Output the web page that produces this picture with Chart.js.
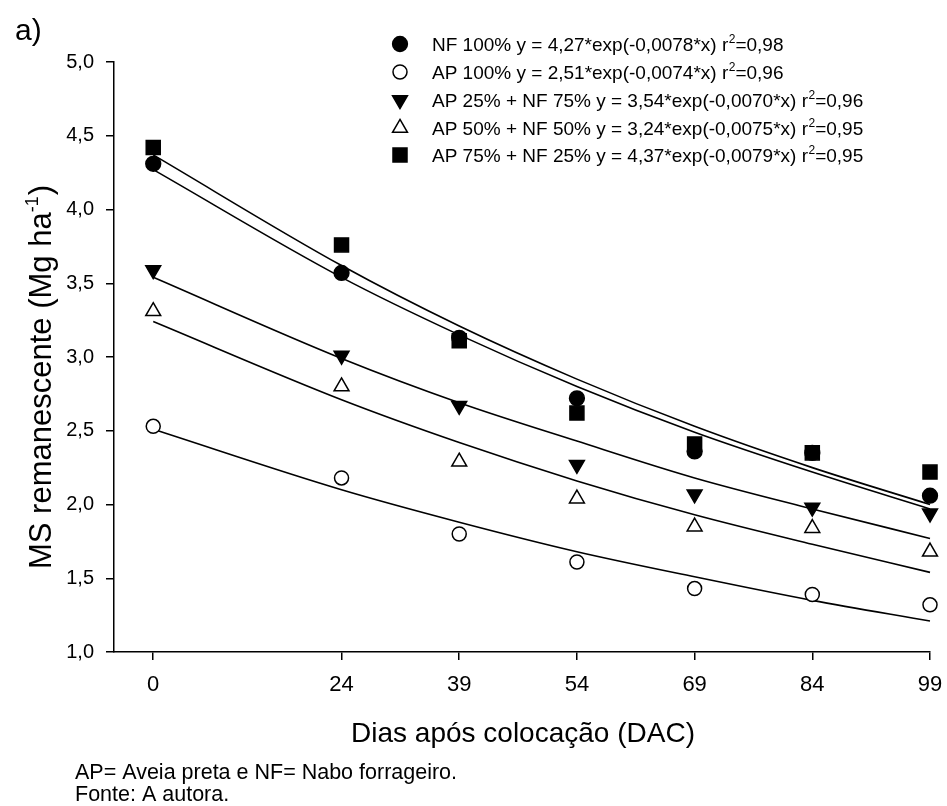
<!DOCTYPE html>
<html>
<head>
<meta charset="utf-8">
<script src="https://cdn.jsdelivr.net/npm/chart.js@4/dist/chart.umd.min.js"></script>
<style>
html,body{margin:0;padding:0;background:#fff;}
#wrap{position:relative;width:947px;height:806px;}
canvas{display:block;}
</style>
</head>
<body>
<div id="wrap"><canvas id="c" width="947" height="806"></canvas></div>
<script>
// ---- data ----
const days = [0, 24, 39, 54, 69, 84, 99];
const xTickValues = [0, 24, 39, 54, 69, 84, 99];

// observed values (Mg ha-1)
const nf100     = [4.31, 3.57, 3.13, 2.72, 2.36, 2.35, 2.06];
const ap100     = [2.53, 2.18, 1.80, 1.61, 1.43, 1.39, 1.32];
const ap25nf75  = [3.59, 3.01, 2.67, 2.27, 2.07, 1.98, 1.94];
const ap50nf50  = [3.31, 2.80, 2.29, 2.04, 1.85, 1.84, 1.68];
const ap75nf25  = [4.42, 3.76, 3.11, 2.62, 2.41, 2.35, 2.22];

// fitted curves read at the same days
const nf100Fit    = [4.27, 3.54, 3.15, 2.80, 2.49, 2.22, 1.97];
const ap100Fit    = [2.51, 2.10, 1.88, 1.68, 1.51, 1.35, 1.21];
const ap25nf75Fit = [3.54, 2.99, 2.69, 2.43, 2.18, 1.97, 1.77];
const ap50nf50Fit = [3.24, 2.71, 2.42, 2.16, 1.93, 1.73, 1.54];
const ap75nf25Fit = [4.37, 3.62, 3.21, 2.85, 2.53, 2.25, 2.00];

const legendMain = [
  "NF 100% y = 4,27*exp(-0,0078*x) r",
  "AP 100% y = 2,51*exp(-0,0074*x) r",
  "AP 25% + NF 75% y = 3,54*exp(-0,0070*x) r",
  "AP 50% + NF 50% y = 3,24*exp(-0,0075*x) r",
  "AP 75% + NF 25% y = 4,37*exp(-0,0079*x) r"
];
const legendR2 = ["=0,98", "=0,96", "=0,96", "=0,95", "=0,95"];

const yTitle = "MS remanescente (Mg ha";
const xTitle = "Dias após colocação (DAC)";
const panelLabel = "a)";
const footnotes = ["AP= Aveia preta e NF= Nabo forrageiro.", "Fonte: A autora."];

// ---- styles ----
const FONT = '"Liberation Sans", Arial, Helvetica, sans-serif';
const markers = [
  {style: 'circle',   radius: 7.4, rotation: 0,   fill: '#000'},
  {style: 'circle',   radius: 7.0, rotation: 0,   fill: '#fff'},
  {style: 'triangle', radius: 8.6, rotation: 180, fill: '#000'},
  {style: 'triangle', radius: 8.6, rotation: 0,   fill: '#fff'},
  {style: 'rect',     radius: 9.9, rotation: 0,   fill: '#000'}
];
const observed = [nf100, ap100, ap25nf75, ap50nf50, ap75nf25];
const fitted = [nf100Fit, ap100Fit, ap25nf75Fit, ap50nf50Fit, ap75nf25Fit];

const toXY = arr => arr.map((v, i) => ({x: days[i], y: v}));

const datasets = [];
observed.forEach((arr, i) => {
  const m = markers[i];
  datasets.push({
    data: toXY(arr),
    showLine: false,
    clip: false,
    pointStyle: m.style,
    pointRadius: m.radius,
    pointHoverRadius: m.radius,
    pointRotation: m.rotation,
    pointBackgroundColor: m.fill,
    pointBorderColor: '#000',
    pointBorderWidth: 1.5,
    order: 0
  });
});
fitted.forEach((arr) => {
  datasets.push({
    data: toXY(arr),
    showLine: true,
    clip: false,
    pointRadius: 0,
    pointHoverRadius: 0,
    borderColor: '#000',
    borderWidth: 1.6,
    fill: false,
    cubicInterpolationMode: 'monotone',
    order: 1
  });
});

const textPlugin = {
  id: 'texts',
  afterDraw(chart) {
    const ctx = chart.ctx;
    ctx.save();
    ctx.fillStyle = '#000';
    ctx.textBaseline = 'alphabetic';
    ctx.textAlign = 'left';

    // panel label
    ctx.font = '30px ' + FONT;
    ctx.fillText(panelLabel, 15, 40);

    // legend
    const rowY = [44, 72, 100, 128, 155];
    for (let i = 0; i < 5; i++) {
      const m = markers[i];
      ctx.fillStyle = m.fill;
      ctx.strokeStyle = '#000';
      ctx.lineWidth = 1.5;
      Chart.helpers.drawPoint(ctx, {pointStyle: m.style, radius: m.radius, rotation: m.rotation, borderWidth: 1.5}, 400, rowY[i]);
      ctx.fillStyle = '#000';
      ctx.font = '19px ' + FONT;
      let x = 432;
      const base = rowY[i] + 7;
      ctx.fillText(legendMain[i], x, base);
      x += ctx.measureText(legendMain[i]).width;
      ctx.font = '12px ' + FONT;
      ctx.fillText('2', x + 0.5, base - 8);
      x += ctx.measureText('2').width + 0.5;
      ctx.font = '19px ' + FONT;
      ctx.fillText(legendR2[i], x, base);
    }

    // y title (rotated) with superscript
    ctx.save();
    ctx.translate(51, 377);
    ctx.rotate(-Math.PI / 2);
    ctx.font = '31px ' + FONT;
    const w1 = ctx.measureText(yTitle).width;
    ctx.font = '18px ' + FONT;
    const ws = ctx.measureText('-1').width;
    ctx.font = '31px ' + FONT;
    const w2 = ctx.measureText(')').width;
    const total = w1 + ws + w2 + 1;
    let sx = -total / 2;
    ctx.fillText(yTitle, sx, 0);
    sx += w1;
    ctx.font = '18px ' + FONT;
    ctx.fillText('-1', sx, -13);
    sx += ws + 1;
    ctx.font = '31px ' + FONT;
    ctx.fillText(')', sx, 0);
    ctx.restore();

    // x title
    ctx.font = '28px ' + FONT;
    ctx.textAlign = 'center';
    const ca = chart.chartArea;
    ctx.fillText(xTitle, (ca.left + ca.right) / 2 + 1, 742);

    // footnotes
    ctx.textAlign = 'left';
    ctx.font = '21.5px ' + FONT;
    ctx.fillText(footnotes[0], 75, 779);
    ctx.fillText(footnotes[1], 75, 801);
    ctx.restore();
  }
};

new Chart(document.getElementById('c'), {
  type: 'scatter',
  data: {datasets},
  options: {
    responsive: false,
    devicePixelRatio: 1,
    animation: false,
    layout: {padding: {left: 0, top: 62, right: 17, bottom: 0}},
    plugins: {legend: {display: false}, tooltip: {enabled: false}},
    scales: {
      x: {
        type: 'linear',
        min: -5,
        max: 99,
        afterBuildTicks: (scale) => { scale.ticks = xTickValues.map(v => ({value: v})); },
        afterFit: (scale) => { scale.height = 154; scale.paddingLeft = 0; scale.paddingRight = 0; },
        ticks: {
          color: '#000',
          font: {family: FONT, size: 22},
          padding: 12,
          maxRotation: 0,
          autoSkip: false,
          callback: (v) => String(v)
        },
        grid: {display: true, drawOnChartArea: false, drawTicks: true, tickLength: 8, color: '#000', lineWidth: 1.5},
        border: {display: true, color: '#000', width: 1.5}
      },
      y: {
        type: 'linear',
        min: 1,
        max: 5,
        afterFit: (scale) => { scale.width = 114; scale.paddingTop = 0; scale.paddingBottom = 0; },
        ticks: {
          stepSize: 0.5,
          color: '#000',
          font: {family: FONT, size: 20},
          padding: 12,
          callback: (v) => v.toFixed(1).replace('.', ',')
        },
        grid: {display: true, drawOnChartArea: false, drawTicks: true, tickLength: 8, color: '#000', lineWidth: 1.5},
        border: {display: true, color: '#000', width: 1.5}
      }
    }
  },
  plugins: [textPlugin]
});
</script>
</body>
</html>
